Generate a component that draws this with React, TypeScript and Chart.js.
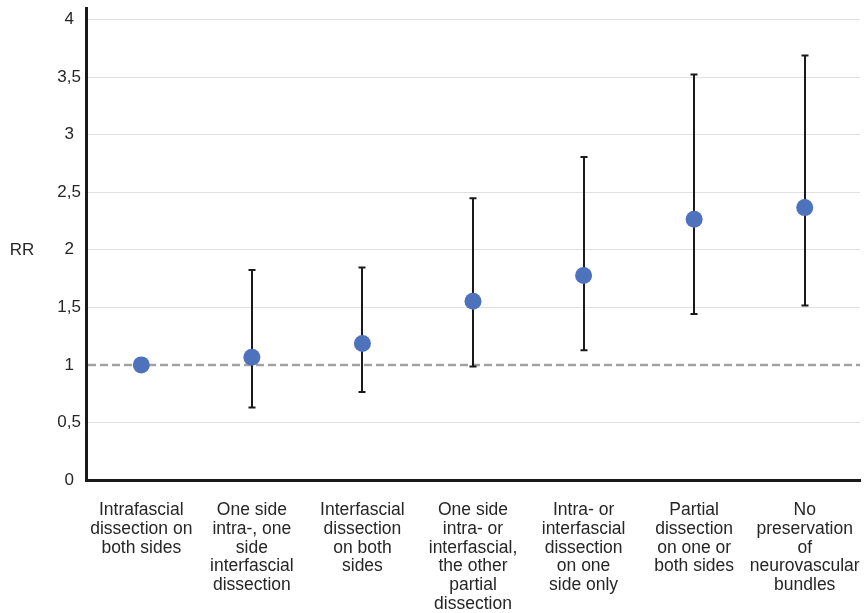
import React, { useEffect, useRef } from 'react';
import { Chart, registerables } from 'chart.js';

Chart.register(...registerables);

const categories: string[][] = [
  ['Intrafascial', 'dissection on', 'both sides'],
  ['One side', 'intra-, one', 'side', 'interfascial', 'dissection'],
  ['Interfascial', 'dissection', 'on both', 'sides'],
  ['One side', 'intra- or', 'interfascial,', 'the other', 'partial', 'dissection'],
  ['Intra- or', 'interfascial', 'dissection', 'on one', 'side only'],
  ['Partial', 'dissection', 'on one or', 'both sides'],
  ['No', 'preservation', 'of', 'neurovascular', 'bundles'],
];

const rr: number[] = [1.0, 1.067, 1.186, 1.553, 1.776, 2.265, 2.366];
const ciLower: (number | null)[] = [null, 0.63, 0.765, 0.985, 1.128, 1.443, 1.516];
const ciUpper: (number | null)[] = [null, 1.825, 1.845, 2.447, 2.806, 3.523, 3.688];

const yTickValues: number[] = [0, 0.5, 1, 1.5, 2, 2.5, 3, 3.5, 4];
const yMax = 4.1;
const referenceValue = 1;
const yTitle = 'RR';

const FONT = "'Liberation Sans', Arial, sans-serif";
const TEXT = '#262626';

const errorBarPlugin = {
  id: 'errorBars',
  beforeDatasetsDraw(chart: any) {
    const { ctx, chartArea, scales } = chart;
    const xs = scales.x;
    const ys = scales.y;
    ctx.save();
    // reference dashed line
    const yr = ys.getPixelForValue(referenceValue);
    ctx.strokeStyle = '#a3a3a3';
    ctx.lineWidth = 2.5;
    ctx.setLineDash([8, 4]);
    ctx.beginPath();
    ctx.moveTo(chartArea.left + 2, yr);
    ctx.lineTo(chartArea.right, yr);
    ctx.stroke();
    ctx.setLineDash([]);
    // error bars
    ctx.strokeStyle = '#1a1a1a';
    ctx.lineWidth = 2;
    const cap = 3.5;
    for (let i = 0; i < rr.length; i++) {
      const lo = ciLower[i];
      const hi = ciUpper[i];
      if (lo == null || hi == null) continue;
      const x = Math.round(xs.getPixelForValue(i));
      const yl = ys.getPixelForValue(lo);
      const yh = ys.getPixelForValue(hi);
      ctx.beginPath();
      ctx.moveTo(x, yl);
      ctx.lineTo(x, yh);
      ctx.moveTo(x - cap, yl);
      ctx.lineTo(x + cap, yl);
      ctx.moveTo(x - cap, yh);
      ctx.lineTo(x + cap, yh);
      ctx.stroke();
    }
    ctx.restore();
  },
  afterDraw(chart: any) {
    const { ctx, scales } = chart;
    const ys = scales.y;
    ctx.save();
    ctx.fillStyle = TEXT;
    ctx.font = `17px ${FONT}`;
    ctx.textAlign = 'center';
    ctx.textBaseline = 'middle';
    ctx.fillText(yTitle, 22, ys.getPixelForValue(2) + 1);
    ctx.restore();
  },
};

export default function App() {
  const ref = useRef<HTMLCanvasElement | null>(null);
  useEffect(() => {
    if (!ref.current) return;
    const chart = new Chart(ref.current, {
      type: 'line',
      data: {
        labels: categories as any,
        datasets: [
          {
            data: rr,
            showLine: false,
            pointRadius: 8.5,
            pointHoverRadius: 8.5,
            pointBackgroundColor: '#4f72bd',
            pointBorderWidth: 0,
            borderColor: '#4f72bd',
          },
        ],
      },
      options: {
        responsive: false,
        animation: false,
        events: [],
        layout: { autoPadding: false, padding: { left: 0, top: 8, right: 4, bottom: 0 } },
        plugins: {
          legend: { display: false },
          tooltip: { enabled: false },
        },
        scales: {
          x: {
            type: 'category',
            offset: true,
            grid: { drawOnChartArea: false, drawTicks: false },
            border: { color: '#1a1a1a', width: 3 },
            ticks: {
              color: TEXT,
              font: { family: FONT, size: 17.5, lineHeight: 1.07 },
              padding: 21,
              maxRotation: 0,
              autoSkip: false,
            },
            afterFit(scale: any) {
              scale.height = 133;
              scale.paddingLeft = 0;
              scale.paddingRight = 0;
              scale.paddingTop = 0;
              scale.paddingBottom = 0;
            },
          },
          y: {
            type: 'linear',
            min: 0,
            max: yMax,
            afterBuildTicks(scale: any) {
              scale.ticks = yTickValues.map((v) => ({ value: v }));
            },
            grid: {
              drawTicks: false,
              color: (c: any) =>
                c.tick && (c.tick.value === referenceValue || c.tick.value === 0)
                  ? 'rgba(0,0,0,0)'
                  : '#e0e0e0',
              lineWidth: 1,
            },
            border: { color: '#1a1a1a', width: 3 },
            ticks: {
              color: TEXT,
              font: { family: FONT, size: 17 },
              padding: 5,
              crossAlign: 'center',
              callback: (v: any) => String(v).replace('.', ','),
            },
            afterFit(scale: any) {
              scale.width = 86;
              scale.paddingLeft = 0;
              scale.paddingRight = 0;
              scale.paddingTop = 0;
              scale.paddingBottom = 0;
            },
          },
        },
      },
      plugins: [errorBarPlugin],
    } as any);
    return () => chart.destroy();
  }, []);
  return (
    <div style={{ position: 'absolute', left: 0, top: 0, width: 864, height: 613, background: '#fff' }}>
      <canvas ref={ref} width={864} height={613} />
    </div>
  );
}
